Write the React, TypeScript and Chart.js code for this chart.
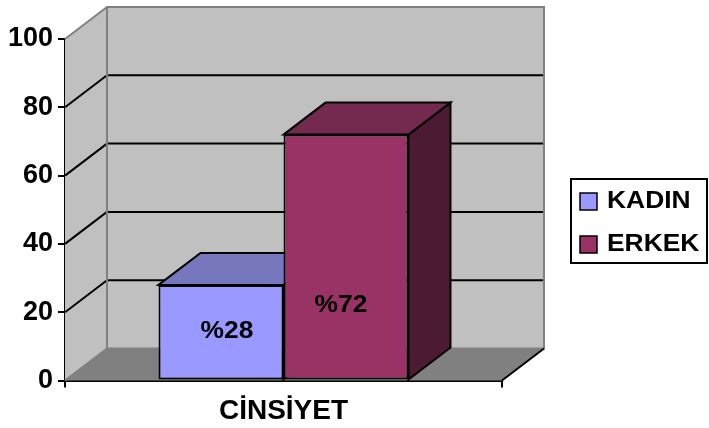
import React, { useEffect, useRef } from "react";
import { Chart, registerables } from "chart.js";

Chart.register(...registerables);

// Chart values
const categories = ["CİNSİYET"];
const seriesNames = ["KADIN", "ERKEK"];
const kadinValues = [28];
const erkekValues = [72];
const valueLabels = ["%28", "%72"];
const yMin = 0;
const yMax = 100;
const yStep = 20;

const FONT = "'Liberation Sans', Arial, sans-serif";
const DX = 42; // depth of the 3-D box, horizontal
const DY = -32; // depth of the 3-D box, vertical
const TEXT_STRETCH = 1.1;

const palette = [
  { front: "#9999FF", top: "#7777BD", side: "#4D4D80" },
  { front: "#993366", top: "#732A4E", side: "#4C1A33" },
];

// label nudges inside each bar (pixels from the bar's front centre)
const labelNudge = [
  { dx: 6, dy: -1 },
  { dx: -5, dy: 48 },
];

function poly(ctx: CanvasRenderingContext2D, pts: number[][]) {
  ctx.beginPath();
  ctx.moveTo(pts[0][0], pts[0][1]);
  for (let i = 1; i < pts.length; i++) ctx.lineTo(pts[i][0], pts[i][1]);
  ctx.closePath();
}

function line(ctx: CanvasRenderingContext2D, x1: number, y1: number, x2: number, y2: number) {
  ctx.beginPath();
  ctx.moveTo(x1, y1);
  ctx.lineTo(x2, y2);
  ctx.stroke();
}

function stretchedText(
  ctx: CanvasRenderingContext2D,
  text: string,
  x: number,
  y: number,
  size: number,
  align: CanvasTextAlign
) {
  ctx.save();
  ctx.translate(x, y);
  ctx.scale(TEXT_STRETCH, 1);
  ctx.font = `bold ${size}px ${FONT}`;
  ctx.textAlign = align;
  ctx.textBaseline = "middle";
  ctx.fillStyle = "#000";
  ctx.fillText(text, 0, 0);
  ctx.restore();
}

const box3d = {
  id: "box3d",
  beforeDatasetsDraw(chart: any) {
    const { ctx, chartArea } = chart;
    const { left, right } = chartArea;
    const ys = chart.scales.y;
    const top = ys.getPixelForValue(yMax);
    const bottom = ys.getPixelForValue(yMin);
    ctx.save();
    ctx.lineJoin = "miter";

    // side wall, back wall and floor
    ctx.fillStyle = "#C0C0C0";
    poly(ctx, [[left, top], [left + DX, top + DY], [left + DX, bottom + DY], [left, bottom]]);
    ctx.fill();
    ctx.fillRect(left + DX, top + DY, right - left, bottom - top);
    ctx.fillStyle = "#808080";
    poly(ctx, [[left, bottom], [left + DX, bottom + DY], [right + DX, bottom + DY], [right, bottom]]);
    ctx.fill();

    // gridlines on the walls
    ctx.strokeStyle = "#000";
    ctx.lineWidth = 2;
    for (let v = yMin + yStep; v < yMax; v += yStep) {
      const py = ys.getPixelForValue(v);
      line(ctx, left, py, left + DX, py + DY);
      line(ctx, left + DX, py + DY, right + DX, py + DY);
    }

    // wall edges
    ctx.strokeStyle = "#808080";
    ctx.lineWidth = 2;
    line(ctx, left, top, left + DX, top + DY);
    ctx.strokeRect(left + DX, top + DY, right - left, bottom - top);
    line(ctx, left, bottom, left + DX, bottom + DY);
    ctx.strokeStyle = "#000";
    line(ctx, right, bottom, right + DX, bottom + DY);

    // depth faces of each column
    ctx.lineWidth = 2;
    ctx.strokeStyle = "#000";
    chart.data.datasets.forEach((_ds: any, i: number) => {
      const meta = chart.getDatasetMeta(i);
      meta.data.forEach((bar: any) => {
        const { x, y, base, width } = bar.getProps(["x", "y", "base", "width"], true);
        const l = x - width / 2;
        const r = x + width / 2;
        ctx.fillStyle = palette[i].side;
        poly(ctx, [[r, y], [r + DX, y + DY], [r + DX, base + DY], [r, base]]);
        ctx.fill();
        ctx.stroke();
        ctx.fillStyle = palette[i].top;
        poly(ctx, [[l, y], [l + DX, y + DY], [r + DX, y + DY], [r, y]]);
        ctx.fill();
        ctx.stroke();
      });
    });
    ctx.restore();
  },
  afterDatasetsDraw(chart: any) {
    const { ctx } = chart;
    chart.data.datasets.forEach((_ds: any, i: number) => {
      const meta = chart.getDatasetMeta(i);
      meta.data.forEach((bar: any) => {
        const { x, y, base } = bar.getProps(["x", "y", "base"], true);
        stretchedText(ctx, valueLabels[i], x + labelNudge[i].dx, (y + base) / 2 + labelNudge[i].dy, 24, "center");
      });
    });
  },
  afterDraw(chart: any) {
    const { ctx } = chart;
    ctx.save();
    // legend box
    const bx = 571, by = 179, bw = 136, bh = 84;
    ctx.fillStyle = "#FFF";
    ctx.fillRect(bx, by, bw, bh);
    ctx.strokeStyle = "#000";
    ctx.lineWidth = 2;
    ctx.strokeRect(bx, by, bw, bh);
    chart.data.datasets.forEach((ds: any, i: number) => {
      const cy = 201 + i * 43;
      ctx.fillStyle = ds.backgroundColor;
      ctx.fillRect(580, cy - 8, 17, 17);
      ctx.lineWidth = 1.5;
      ctx.strokeRect(580, cy - 8, 17, 17);
      stretchedText(ctx, ds.label, 607, cy + 0.5, 24, "left");
    });
    ctx.restore();
  },
};

export default function App() {
  const ref = useRef<HTMLCanvasElement>(null);
  useEffect(() => {
    const canvas = ref.current;
    if (!canvas) return;
    const chart = new Chart(canvas, {
      type: "bar",
      data: {
        labels: categories,
        datasets: [
          {
            label: seriesNames[0],
            data: kadinValues,
            backgroundColor: palette[0].front,
            borderColor: "#000",
            borderWidth: 2,
            borderSkipped: false,
          },
          {
            label: seriesNames[1],
            data: erkekValues,
            backgroundColor: palette[1].front,
            borderColor: "#000",
            borderWidth: 2,
            borderSkipped: false,
          },
        ],
      },
      options: {
        responsive: false,
        animation: false,
        layout: { padding: { top: 39, right: 207, left: 0, bottom: 0 } },
        plugins: { legend: { display: false }, tooltip: { enabled: false } },
        datasets: { bar: { categoryPercentage: 0.572, barPercentage: 1 } },
        scales: {
          x: {
            afterFit: (s: any) => {
              s.height = 47.5;
            },
            grid: {
              offset: true,
              drawOnChartArea: false,
              drawTicks: true,
              tickLength: 7,
              color: "#000",
              lineWidth: 2,
            },
            border: { display: true, color: "#000", width: 2 },
            ticks: { color: "#000", font: { family: FONT, size: 28, weight: "bold" }, padding: 7 },
          },
          y: {
            min: yMin,
            max: yMax,
            afterFit: (s: any) => {
              s.width = 65;
            },
            grid: {
              drawOnChartArea: false,
              drawTicks: true,
              tickLength: 7,
              color: "#000",
              lineWidth: 2,
            },
            border: { display: true, color: "#000", width: 2 },
            ticks: {
              stepSize: yStep,
              color: "#000",
              padding: 5,
              font: { family: FONT, size: 27, weight: "bold" },
            },
          },
        },
      },
      plugins: [box3d],
    });
    return () => chart.destroy();
  }, []);
  return (
    <div style={{ position: "absolute", left: 0, top: 0, width: 709, height: 428, background: "#FFF" }}>
      <canvas ref={ref} width={709} height={428} />
    </div>
  );
}
